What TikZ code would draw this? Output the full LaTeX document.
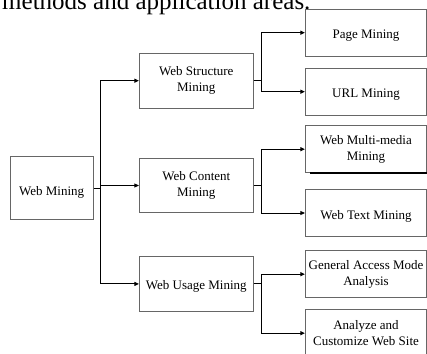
\documentclass[tikz,border=0pt]{standalone}
\usepackage{fontspec}
\setmainfont{Liberation Serif}
\usetikzlibrary{arrows.meta}
\newcommand\lowtext[2]{\raisebox{-#1}[\height][\depth]{#2}}
\begin{document}
\begin{tikzpicture}[x=1pt,y=-1pt,
  box/.style={draw=black!60, line width=0.8pt, rectangle, inner sep=0pt, align=center,
    font=\fontsize{13}{16}\selectfont},
  leftbox/.style={box, minimum width=83.3pt, minimum height=62.6pt},
  midbox/.style={box, minimum width=114pt, minimum height=54.5pt},
  rightbox/.style={box, minimum width=121.4pt, minimum height=47pt},
  conn/.style={draw=black, line width=0.9pt, -{Triangle[length=4.5pt,width=4pt]}},
  plain/.style={draw=black, line width=0.9pt}
]
\useasboundingbox (0,0) rectangle (427,353);
\node[anchor=base west, inner sep=0pt, font=\fontsize{25}{30}\selectfont] (head) at (2,10) {methods and application areas.};

\node[leftbox] (wm) at (51.7,188) {\lowtext{4pt}{Web Mining}};

\node[midbox] (ws) at (196.3,80.7) {\fontsize{13}{18}\selectfont Web Structure\\Mining};
\node[midbox] (wc) at (196.3,185.5) {\fontsize{13}{19}\selectfont Web Content\\Mining};
\node[midbox] (wu) at (196.3,283.9) {\lowtext{2pt}{Web Usage Mining}};

\node[rightbox] (pm) at (366,32.7) {\lowtext{2.5pt}{Page Mining}};
\node[rightbox] (um) at (366,91.7) {\lowtext{3pt}{URL Mining}};
\node[rightbox] (mm) at (366,149.2) {\fontsize{13}{14.5}\selectfont Web Multi-media\\Mining};
\node[rightbox] (tm) at (366,213) {\lowtext{3pt}{Web Text Mining}};
\node[rightbox] (ga) at (366,274.2) {\fontsize{13}{16.5}\selectfont General Access Mode\\Analysis};
\node[rightbox] (ac) at (366,333.2) {\fontsize{13}{16}\selectfont Analyze and\\Customize Web Site};

% thick line under multi-media box
\coordinate (mmL) at (310,173.2);
\coordinate (mmR) at (427,173.2);
\draw[line width=1.8pt] (mmL) -- (mmR);

% first level
\coordinate (j0) at (100,188);
\draw[plain] (wm.east) -- (j0);
\draw[conn] (j0) |- (ws.west);
\draw[conn] (j0) |- (wc.west);
\draw[conn] (j0) |- (wu.west);

% second level
\coordinate (j1) at (261.7,80.7);
\draw[plain] (ws.east) -- (j1);
\draw[conn] (j1) |- (pm.west);
\draw[conn] (j1) |- (um.west);

\coordinate (j2) at (261.7,185.5);
\draw[plain] (wc.east) -- (j2);
\draw[conn] (j2) |- (mm.west);
\draw[conn] (j2) |- (tm.west);

\coordinate (j3) at (261.7,283.9);
\draw[plain] (wu.east) -- (j3);
\draw[conn] (j3) |- (ga.west);
\draw[conn] (j3) |- (ac.west);
\end{tikzpicture}
\end{document}
